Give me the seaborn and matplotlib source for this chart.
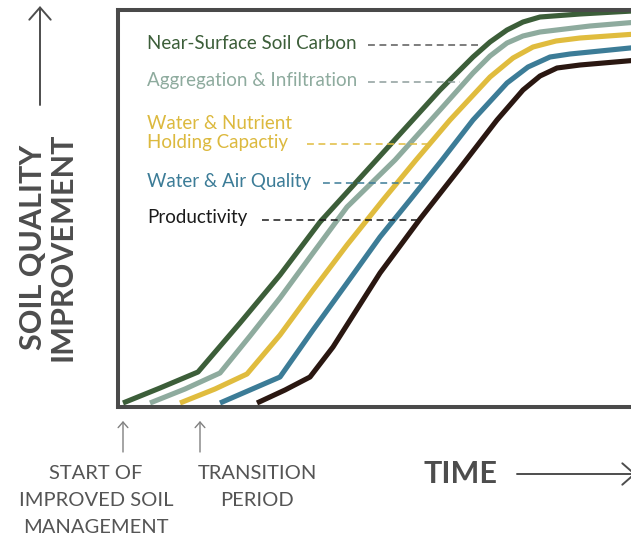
import matplotlib

matplotlib.use("Agg")

import matplotlib.pyplot as plt
import pandas as pd
import seaborn as sns
from matplotlib.patches import FancyArrowPatch

# curves: time (x) vs soil quality improvement (y), arbitrary units
carbon_t = [5, 42, 80, 122, 162, 202, 222, 272, 322, 355, 372, 389, 405, 422, 462, 532]
carbon_v = [4, 19, 35, 84, 132, 185, 207, 262, 317, 350, 365, 377, 385, 390, 393, 397]

aggregation_t = [32, 67, 102, 132, 162, 195, 229, 277, 322, 355, 372, 389, 405, 422, 472, 532]
aggregation_v = [4, 18, 34, 71, 109, 154, 200, 247, 297, 334, 351, 364, 371, 375, 381, 386]

holding_t = [62, 97, 129, 162, 195, 229, 265, 298, 332, 372, 395, 415, 438, 462, 532]
holding_v = [4, 18, 33, 72, 117, 162, 207, 247, 287, 330, 349, 360, 366, 369, 374]

water_air_t = [102, 132, 162, 195, 229, 262, 292, 324, 355, 389, 410, 432, 452, 472, 532]
water_air_v = [4, 17, 30, 77, 124, 170, 207, 247, 287, 324, 340, 350, 353, 355, 361]

productivity_t = [139, 167, 192, 215, 262, 302, 342, 379, 405, 422, 439, 462, 532]
productivity_v = [4, 17, 30, 60, 134, 188, 239, 287, 317, 331, 339, 342, 348]

indicators = [
    "Near-Surface Soil Carbon",
    "Aggregation & Infiltration",
    "Water & Nutrient\nHolding Capactiy",
    "Water & Air Quality",
    "Productivity",
]
colors = ["#3c5e39", "#8eab9e", "#e0bc3e", "#3c7c97", "#2a1711"]
text_colors = ["#3c5e39", "#8eab9e", "#dcb93e", "#3c7c97", "#1a1a1a"]
dash_colors = ["#5a5a5a", "#8e9e9c", "#e0bc3e", "#3c7c97", "#1a1a1a"]

# label baselines / leader lines (same units as the curves)
label_y = [358, 321, 259, 220, 184]
leader_y = [362, 325, 263, 224, 187]
leader_x0 = [250, 250, 189, 205, 144]
leader_x1 = [362, 342, 312, 302, 299]

frames = []
for name, t, v in zip(
    indicators,
    [carbon_t, aggregation_t, holding_t, water_air_t, productivity_t],
    [carbon_v, aggregation_v, holding_v, water_air_v, productivity_v],
):
    frames.append(pd.DataFrame({"time": t, "improvement": v, "indicator": name}))
df = pd.concat(frames, ignore_index=True)

sns.set_style("white")
plt.rcParams["font.family"] = ["Lato", "DejaVu Sans"]

W, H = 631, 535
fig = plt.figure(figsize=(W / 100, H / 100), dpi=100)
ax = fig.add_axes([118 / W, 128 / H, 532 / W, 397.5 / H])

sns.lineplot(
    data=df,
    x="time",
    y="improvement",
    hue="indicator",
    palette=dict(zip(indicators, colors)),
    sort=False,
    estimator=None,
    linewidth=3.7,
    legend=False,
    ax=ax,
)
for line in ax.get_lines():
    line.set_solid_joinstyle("round")
    line.set_solid_capstyle("butt")

ax.set_xlim(0, 532)
ax.set_ylim(0, 397.5)
ax.set_xticks([])
ax.set_yticks([])
ax.set_xlabel("")
ax.set_ylabel("")
for spine in ax.spines.values():
    spine.set_linewidth(2.9)
    spine.set_color("#4a4a4a")

for i, name in enumerate(indicators):
    ax.text(29, label_y[i], name, color=text_colors[i],
            fontsize=13.5, va="baseline", ha="left", linespacing=1.12)
    ax.plot([leader_x0[i], leader_x1[i]], [leader_y[i], leader_y[i]],
            color=dash_colors[i], lw=1.1, dashes=(4.5, 3), zorder=5)


def fx(x):
    return x / W


def fy(y):
    return 1 - y / H


gray = "#4d4d4d"
fig.text(fx(48), fy(247), "SOIL QUALITY\nIMPROVEMENT", rotation=90, ha="center",
         va="center", fontsize=22, fontweight="bold", color=gray, linespacing=1.05)
fig.text(fx(461), fy(474), "TIME", ha="center", va="center", fontsize=22,
         fontweight="bold", color=gray)
fig.text(fx(96), fy(465), "START OF\nIMPROVED SOIL\nMANAGEMENT", ha="center",
         va="top", fontsize=14.5, color="#555555", linespacing=1.7)
fig.text(fx(257), fy(465), "TRANSITION\nPERIOD", ha="center", va="top",
         fontsize=14.5, color="#555555", linespacing=1.7)

arrow_specs = [
    ((40, 105), (40, 6), 11, 1.4, gray),
    ((517, 474), (636, 474), 11, 1.4, gray),
    ((123, 452), (123, 421), 5, 1.0, "#808080"),
    ((200, 452), (200, 421), 5, 1.0, "#808080"),
]
for (x0, y0), (x1, y1), ms, lw, col in arrow_specs:
    fig.add_artist(FancyArrowPatch(
        (fx(x0), fy(y0)), (fx(x1), fy(y1)), transform=fig.transFigure,
        arrowstyle="->,head_length=0.8,head_width=0.7", mutation_scale=ms,
        lw=lw, color=col, shrinkA=0, shrinkB=0,
    ))

fig.savefig("out.png", dpi=100)
plt.close(fig)
